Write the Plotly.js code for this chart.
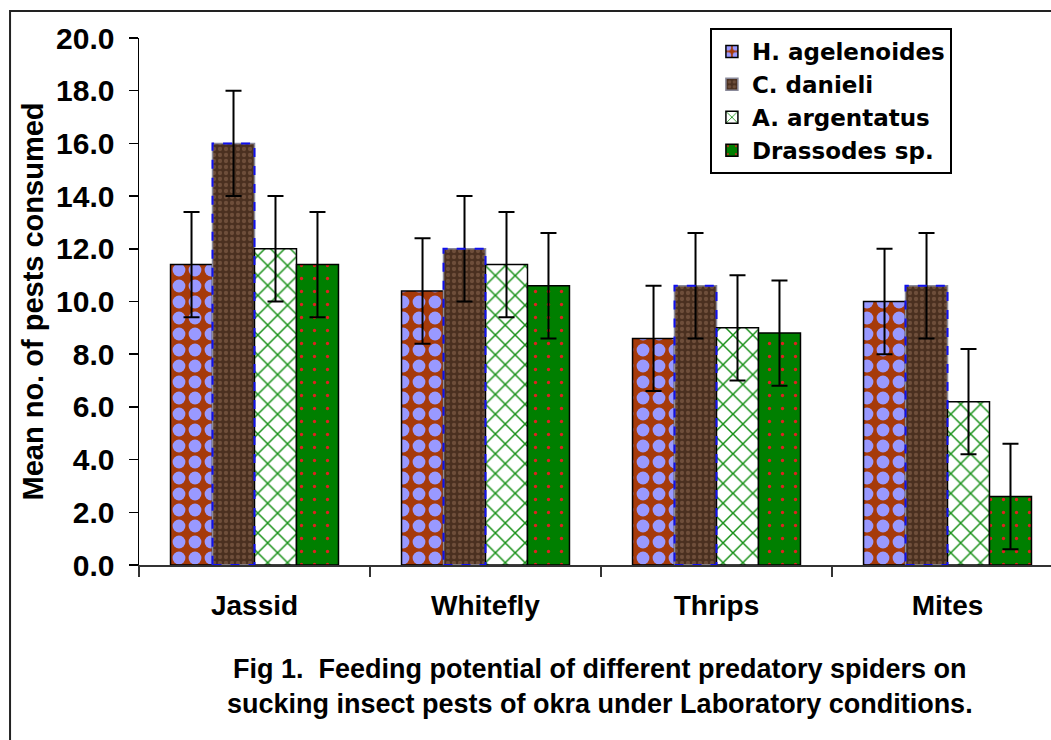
<!DOCTYPE html>
<html>
<head>
<meta charset="utf-8">
<script src="https://cdn.plot.ly/plotly-3.0.1.min.js"></script>
<style>html,body{margin:0;padding:0;background:#fff;}#chart{width:1051px;height:740px;}</style>
</head>
<body>
<div id="chart"></div>
<script>
var categories = ["Jassid", "Whitefly", "Thrips", "Mites"];
var seriesNames = ["H. agelenoides", "C. danieli", "A. argentatus", "Drassodes sp."];
var hAgelenoides = [11.4, 10.4, 8.6, 10.0];
var cDanieli = [16.0, 12.0, 10.6, 10.6];
var aArgentatus = [12.0, 11.4, 9.0, 6.2];
var drassodes = [11.4, 10.6, 8.8, 2.6];
var errH = [2.0, 2.0, 2.0, 2.0];
var errC = [2.0, 2.0, 2.0, 2.0];
var errA = [2.0, 2.0, 2.0, 2.0];
var errD = [2.0, 2.0, 2.0, 2.0];
var yTitle = "Mean no. of pests consumed";
var caption = "Fig 1.\u00a0 Feeding potential of different predatory spiders on<br>sucking insect pests of okra under Laboratory conditions.";

var FONT = "Liberation Sans, Arial, sans-serif";
var LFONT = "DejaVu Sans, Verdana, sans-serif";
var BARGAP = 0.273;

function eb(arr) {
  return {type: "data", array: arr, visible: true, color: "#000", thickness: 2, width: 8};
}

var traces = [
  {
    type: "bar", name: seriesNames[0], x: categories, y: hAgelenoides, error_y: eb(errH),
    marker: {color: "#A63A0A", line: {color: "#000", width: 1.5},
      pattern: {shape: ".", fgcolor: "#9999FF", bgcolor: "#A63A0A", size: 16, solidity: 0.5, fillmode: "replace"}}
  },
  {
    type: "bar", name: seriesNames[1], x: categories, y: cDanieli, error_y: eb(errC),
    marker: {color: "#553726", line: {color: "#8a8a9a", width: 1.5},
      pattern: {shape: ".", fgcolor: "#6E4E3A", bgcolor: "#4A3020", size: 6, solidity: 0.4, fillmode: "replace"}}
  },
  {
    type: "bar", name: seriesNames[2], x: categories, y: aArgentatus, error_y: eb(errA),
    marker: {color: "#FFFFFF", line: {color: "#000", width: 1.5},
      pattern: {shape: "x", fgcolor: "#179017", bgcolor: "#FFFFFF", size: 14, solidity: 0.2, fillmode: "replace"}}
  },
  {
    type: "bar", name: seriesNames[3], x: categories, y: drassodes, error_y: eb(errD),
    marker: {color: "#007F00", line: {color: "#000", width: 1.5},
      pattern: {shape: ".", fgcolor: "#E02020", bgcolor: "#007F00", size: 13, solidity: 0.05, fillmode: "replace"}}
  }
];

// dashed blue outline for C. danieli bars, positioned from the data and bar geometry
var w = (1 - BARGAP) / 4;
var shapes = [];
for (var i = 0; i < categories.length; i++) {
  shapes.push({
    type: "rect", xref: "x", yref: "y", x0: i - w, x1: i, y0: 0, y1: cDanieli[i],
    line: {color: "#1010EE", width: 2, dash: "dash"}, fillcolor: "rgba(0,0,0,0)", layer: "above"
  });
}
// outer frame
shapes.push({
  type: "rect", xref: "paper", yref: "paper", x0: -0.1414, x1: 1.2, y0: -0.4, y1: 1.0512,
  line: {color: "#222", width: 2}, fillcolor: "rgba(0,0,0,0)", layer: "below"
});

var layout = {
  width: 1051, height: 740,
  margin: {l: 139, r: 0, t: 38, b: 175, pad: 0},
  paper_bgcolor: "#fff", plot_bgcolor: "#fff",
  font: {family: FONT, color: "#000", weight: "bold"},
  barmode: "group", bargap: BARGAP, bargroupgap: 0,
  showlegend: true,
  legend: {
    x: 0.626, y: 1.019, xanchor: "left", yanchor: "top",
    bgcolor: "#fff", bordercolor: "#000", borderwidth: 2,
    font: {family: LFONT, size: 23, color: "#000", weight: "bold"},
    itemwidth: 30, tracegroupgap: 0
  },
  xaxis: {
    type: "category", range: [-0.5, 3.448],
    showline: true, linecolor: "#333", linewidth: 2,
    ticks: "outside", tickson: "boundaries", ticklen: 10, tickwidth: 2, tickcolor: "#333",
    tickfont: {family: FONT, size: 28, color: "#000", weight: "bold"},
    ticklabelstandoff: 14,
    showgrid: false, zeroline: false, fixedrange: true
  },
  yaxis: {
    range: [0, 20], dtick: 2, tick0: 0, tickformat: ".1f",
    showline: true, linecolor: "#000", linewidth: 1.5,
    ticks: "outside", ticklen: 9, tickwidth: 1.5, tickcolor: "#000",
    tickfont: {family: FONT, size: 30, color: "#000", weight: "bold"},
    ticklabelstandoff: 8,
    showgrid: false, zeroline: false,
    title: {text: yTitle, font: {family: FONT, size: 29, color: "#000", weight: "bold"}, standoff: 4}
  },
  shapes: shapes,
  annotations: [{
    xref: "paper", yref: "paper", x: 0.5055, y: -0.165, xanchor: "center", yanchor: "top",
    text: caption, showarrow: false, align: "center",
    font: {family: FONT, size: 27, color: "#000", weight: "bold"}
  }]
};

Plotly.newPlot("chart", traces, layout, {displayModeBar: false, staticPlot: true});
</script>
</body>
</html>
